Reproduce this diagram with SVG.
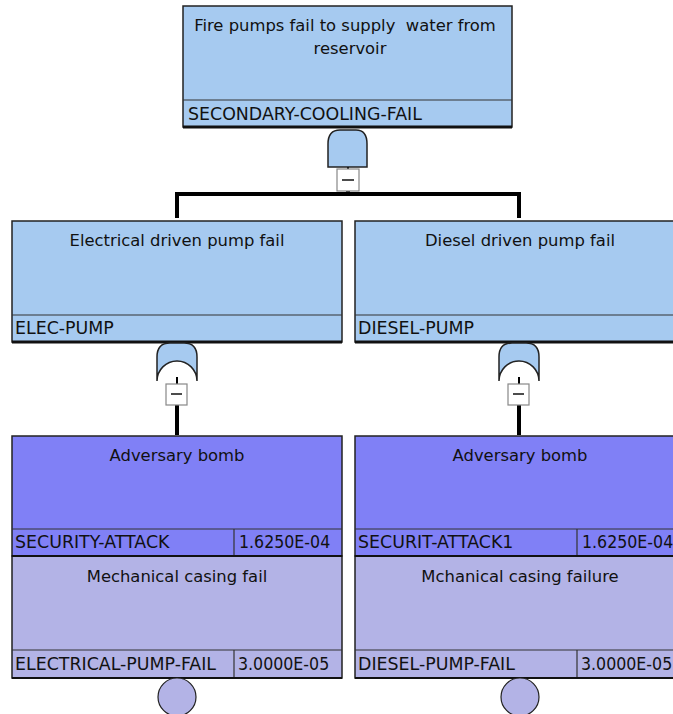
<svg xmlns="http://www.w3.org/2000/svg" width="673" height="714" viewBox="0 0 673 714">
<style>
.t{font-family:"DejaVu Sans",Verdana,sans-serif;font-size:16.4px;fill:#111}
.l{font-family:"DejaVu Sans",Verdana,sans-serif;font-size:17.4px;fill:#111}
.c{text-anchor:middle}
.n{font-family:"DejaVu Sans Condensed","DejaVu Sans",sans-serif;font-stretch:condensed;font-size:17.6px;fill:#111}
.box{stroke:#222;stroke-width:1.5}
.sep{stroke:#333;stroke-width:1.2}
.bot{stroke:#111;stroke-width:3}
.gate{fill:#A6CAF0;stroke:#222;stroke-width:1.5}
.gb{fill:#fff;stroke:#888;stroke-width:1.2}
.mn{stroke:#111;stroke-width:1.5}
.con{stroke:#000;stroke-width:4;fill:none}
.lb{fill:#A6CAF0}
.ad{fill:#8080F6}
.mc{fill:#B3B3E6}
</style>
<rect width="673" height="714" fill="#fff"/>
<g id="connectors">
  <line class="con" x1="348" y1="167" x2="348" y2="169" style="stroke-width:2"/>
  <polyline class="con" points="177,218 177,194 519,194 519,218"/>
  <line class="con" x1="348" y1="191" x2="348" y2="194"/>
  <line class="con" x1="177" y1="377" x2="177" y2="384" style="stroke-width:2"/>
  <line class="con" x1="177" y1="405" x2="177" y2="435"/>
  <line class="con" x1="519" y1="377" x2="519" y2="384" style="stroke-width:2"/>
  <line class="con" x1="519" y1="405" x2="519" y2="435"/>
</g>
<g id="top">
  <rect class="box lb" x="183" y="6" width="329" height="121"/>
  <line class="sep" x1="183" y1="100" x2="512" y2="100"/>
  <line class="bot" x1="183" y1="127" x2="512" y2="127"/>
  <text class="t c" x="345" y="31" style="white-space:pre">Fire pumps fail to supply  water from</text>
  <text class="t c" x="350" y="54">reservoir</text>
  <text class="l" x="188" y="120">SECONDARY-COOLING-FAIL</text>
</g>
<g id="gate-top">
  <path class="gate" d="M328,167 L328,144 Q328,130 340,130 L356,130 Q367,130 367,144 L367,167 Z"/>
  <rect class="gb" x="337" y="169" width="22" height="22"/>
  <line class="mn" x1="342" y1="180" x2="354" y2="180"/>
</g>
<g id="elec-pump">
  <rect class="box lb" x="12" y="221" width="330" height="121"/>
  <line class="sep" x1="12" y1="315" x2="342" y2="315"/>
  <line class="bot" x1="12" y1="342" x2="342" y2="342"/>
  <text class="t c" x="177" y="246">Electrical driven pump fail</text>
  <text class="l" x="15" y="334">ELEC-PUMP</text>
</g>
<g id="gate-elec">
  <path class="gate" d="M157,381 L157,357 Q157,343 170,343 L184,343 Q197,343 197,357 L197,381 A20,20 0 0 0 157,381 Z"/>
  <rect class="gb" x="166" y="384" width="21" height="21"/>
  <line class="mn" x1="171" y1="394" x2="182" y2="394"/>
</g>
<g id="diesel-pump">
  <rect class="box lb" x="355" y="221" width="330" height="121"/>
  <line class="sep" x1="355" y1="315" x2="685" y2="315"/>
  <line class="bot" x1="355" y1="342" x2="685" y2="342"/>
  <text class="t c" x="520" y="246">Diesel driven pump fail</text>
  <text class="l" x="358" y="334">DIESEL-PUMP</text>
</g>
<g id="gate-diesel">
  <path class="gate" d="M499,381 L499,357 Q499,343 512,343 L526,343 Q539,343 539,357 L539,381 A20,20 0 0 0 499,381 Z"/>
  <rect class="gb" x="508" y="384" width="21" height="21"/>
  <line class="mn" x1="513" y1="394" x2="524" y2="394"/>
</g>
<g id="security-attack">
  <rect class="box ad" x="12" y="436" width="330" height="120"/>
  <line class="sep" x1="12" y1="529" x2="342" y2="529"/>
  <line class="sep" x1="234" y1="529" x2="234" y2="556"/>
  <text class="t c" x="177" y="461">Adversary bomb</text>
  <text class="l" x="15" y="548">SECURITY-ATTACK</text>
  <text class="n" x="239" y="548">1.6250E-04</text>
</g>
<g id="electrical-pump-fail">
  <rect class="box mc" x="12" y="556" width="330" height="122"/>
  <line class="bot" x1="12" y1="556" x2="342" y2="556" style="stroke-width:2"/>
  <line class="sep" x1="12" y1="650" x2="342" y2="650"/>
  <line class="sep" x1="234" y1="650" x2="234" y2="678"/>
  <line class="bot" x1="12" y1="678" x2="342" y2="678" style="stroke-width:2"/>
  <text class="t c" x="177" y="582">Mechanical casing fail</text>
  <text class="l" x="15" y="670">ELECTRICAL-PUMP-FAIL</text>
  <text class="n" x="238" y="670">3.0000E-05</text>
  <circle class="mc" cx="177" cy="697" r="19" stroke="#222" stroke-width="1.2"/>
</g>
<g id="securit-attack1">
  <rect class="box ad" x="355" y="436" width="330" height="120"/>
  <line class="sep" x1="355" y1="529" x2="685" y2="529"/>
  <line class="sep" x1="577" y1="529" x2="577" y2="556"/>
  <text class="t c" x="520" y="461">Adversary bomb</text>
  <text class="l" x="358" y="548">SECURIT-ATTACK1</text>
  <text class="n" x="582" y="548">1.6250E-04</text>
</g>
<g id="diesel-pump-fail">
  <rect class="box mc" x="355" y="556" width="330" height="122"/>
  <line class="bot" x1="355" y1="556" x2="685" y2="556" style="stroke-width:2"/>
  <line class="sep" x1="355" y1="650" x2="685" y2="650"/>
  <line class="sep" x1="577" y1="650" x2="577" y2="678"/>
  <line class="bot" x1="355" y1="678" x2="685" y2="678" style="stroke-width:2"/>
  <text class="t c" x="520" y="582">Mchanical casing failure</text>
  <text class="l" x="358" y="670">DIESEL-PUMP-FAIL</text>
  <text class="n" x="581" y="670">3.0000E-05</text>
  <circle class="mc" cx="520" cy="697" r="19" stroke="#222" stroke-width="1.2"/>
</g>
</svg>
